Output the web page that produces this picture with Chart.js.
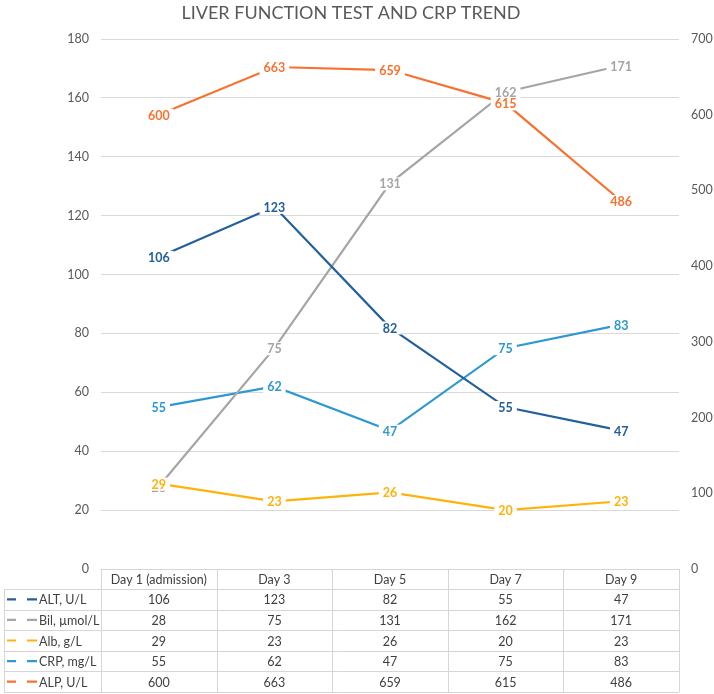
<!DOCTYPE html>
<html><head><meta charset="utf-8">
<script src="https://cdn.jsdelivr.net/npm/chart.js@4"></script>
<style>html,body{margin:0;padding:0;background:#fff}</style>
</head><body>
<canvas id="c" width="714" height="694"></canvas>
<script>
const title = 'LIVER FUNCTION TEST AND CRP TREND';
const categories = ['Day 1 (admission)', 'Day 3', 'Day 5', 'Day 7', 'Day 9'];
const altValues = [106, 123, 82, 55, 47];
const bilValues = [28, 75, 131, 162, 171];
const albValues = [29, 23, 26, 20, 23];
const crpValues = [55, 62, 47, 75, 83];
const alpValues = [600, 663, 659, 615, 486];
const seriesNames = ['ALT, U/L', 'Bil, µmol/L', 'Alb, g/L', 'CRP, mg/L', 'ALP, U/L'];
const leftTicks = [0, 20, 40, 60, 80, 100, 120, 140, 160, 180];
const rightTicks = [0, 100, 200, 300, 400, 500, 600, 700];

const colors = ['#22609c', '#a5a5a5', '#ffb20a', '#2e98d3', '#f8722f'];
const FONT = 'Lato, "Open Sans", sans-serif';

const seriesValues = [altValues, bilValues, albValues, crpValues, alpValues];
const axisFor = ['yL', 'yL', 'yL', 'yL', 'yR'];

const datasets = seriesValues.map((vals, i) => ({
  label: seriesNames[i],
  data: vals,
  yAxisID: axisFor[i],
  borderColor: colors[i],
  backgroundColor: colors[i],
  borderWidth: 2.2,
  pointRadius: 0,
  tension: 0,
  fill: false
}));

const titlePlugin = {
  id: 'titleDraw',
  afterDraw(chart) {
    const ctx = chart.ctx;
    ctx.save();
    ctx.font = '18px ' + FONT;
    ctx.fillStyle = '#595959';
    ctx.textAlign = 'center';
    ctx.textBaseline = 'middle';
    ctx.fillText(title, 351, 13);
    ctx.restore();
  }
};

const labelPlugin = {
  id: 'pointLabels',
  afterDatasetsDraw(chart) {
    const ctx = chart.ctx;
    ctx.save();
    ctx.font = 'bold 12.5px ' + FONT;
    ctx.textAlign = 'center';
    ctx.textBaseline = 'middle';
    chart.data.datasets.forEach((ds, i) => {
      const meta = chart.getDatasetMeta(i);
      meta.data.forEach((el, j) => {
        const txt = String(ds.data[j]);
        const w = ctx.measureText(txt).width;
        ctx.fillStyle = '#ffffff';
        ctx.fillRect(el.x - w / 2 - 4, el.y - 6, w + 8, 13);
        ctx.fillStyle = ds.borderColor;
        ctx.fillText(txt, el.x, el.y + 1);
      });
    });
    ctx.restore();
  }
};

const tablePlugin = {
  id: 'dataTable',
  afterDraw(chart) {
    const ctx = chart.ctx;
    const x = chart.scales.x;
    const area = chart.chartArea;
    const left = area.left, right = area.right;
    const n = categories.length;
    const colW = (right - left) / n;
    const top = area.bottom;
    const headerH = 20;
    const rowH = 20.6;
    const tableLeft = 4;
    ctx.save();
    ctx.strokeStyle = '#d6d6d6';
    ctx.lineWidth = 1;
    ctx.beginPath();
    ctx.moveTo(left, top + 0.5); ctx.lineTo(right, top + 0.5);
    for (let c = 0; c <= n; c++) {
      const cx = Math.round(left + c * colW) + 0.5;
      ctx.moveTo(cx, top); ctx.lineTo(cx, top + headerH + rowH * seriesNames.length);
    }
    for (let r = 0; r <= seriesNames.length; r++) {
      const y = Math.round(top + headerH + r * rowH) + 0.5;
      ctx.moveTo(tableLeft, y); ctx.lineTo(right, y);
    }
    ctx.moveTo(tableLeft + 0.5, top + headerH); ctx.lineTo(tableLeft + 0.5, top + headerH + rowH * seriesNames.length);
    ctx.stroke();

    ctx.font = '12.5px ' + FONT;
    ctx.fillStyle = '#404040';
    ctx.textAlign = 'center';
    ctx.textBaseline = 'middle';
    categories.forEach((c, j) => {
      ctx.fillText(c, x.getPixelForValue(j), top + headerH / 2 + 1);
    });
    seriesValues.forEach((vals, i) => {
      const yc = top + headerH + i * rowH + rowH / 2 + 1;
      ctx.textAlign = 'center';
      ctx.fillStyle = '#404040';
      vals.forEach((v, j) => {
        ctx.fillText(String(v), x.getPixelForValue(j), yc);
      });
      ctx.strokeStyle = colors[i];
      ctx.lineWidth = 2.2;
      ctx.beginPath();
      ctx.moveTo(7, yc - 1); ctx.lineTo(16, yc - 1);
      ctx.moveTo(27, yc - 1); ctx.lineTo(37, yc - 1);
      ctx.stroke();
      ctx.textAlign = 'left';
      ctx.fillStyle = '#404040';
      ctx.fillText(seriesNames[i], 39, yc);
    });
    ctx.restore();
  }
};

new Chart(document.getElementById('c'), {
  type: 'line',
  data: { labels: categories, datasets },
  options: {
    responsive: false,
    animation: false,
    devicePixelRatio: 1,
    layout: { padding: { top: 39, left: 0, right: 0, bottom: 0 } },
    plugins: { legend: { display: false }, title: { display: false }, tooltip: { enabled: false } },
    scales: {
      x: {
        type: 'category',
        offset: true,
        grid: { display: false },
        border: { display: false },
        ticks: { display: false },
        afterFit(s) { s.height = 125; }
      },
      yL: {
        position: 'left',
        min: 0, max: 180,
        afterBuildTicks(s) { s.ticks = leftTicks.map(v => ({ value: v })); },
        grid: { color: '#d9d9d9', lineWidth: 1, drawTicks: false },
        border: { display: false },
        ticks: { color: '#595959', font: { family: FONT, size: 12.5 }, padding: 12 },
        afterFit(s) { s.width = 101; }
      },
      yR: {
        position: 'right',
        min: 0, max: 700,
        afterBuildTicks(s) { s.ticks = rightTicks.map(v => ({ value: v })); },
        grid: { display: false, drawTicks: false },
        border: { display: false },
        ticks: { color: '#595959', font: { family: FONT, size: 12.5 }, padding: 12 },
        afterFit(s) { s.width = 35; }
      }
    }
  },
  plugins: [labelPlugin, tablePlugin, titlePlugin]
});
</script>
</body></html>
